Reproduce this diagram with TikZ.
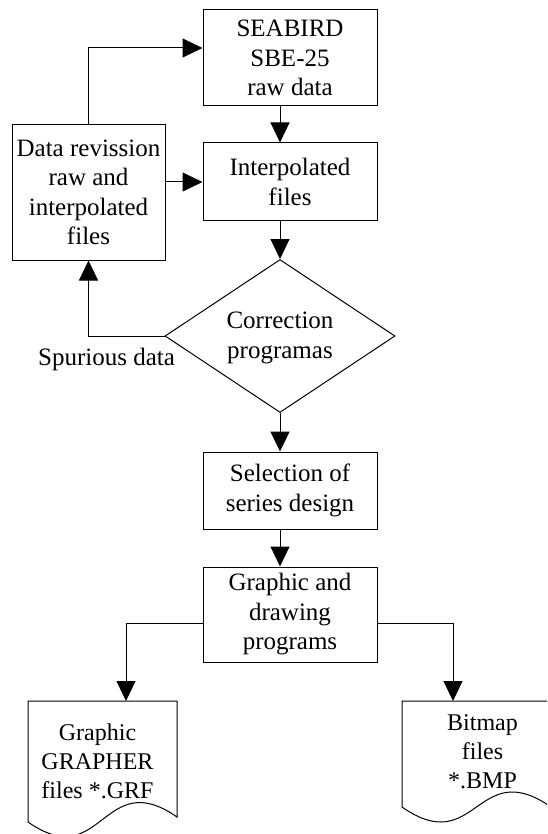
\documentclass[tikz,border=0pt]{standalone}
\usepackage{fontspec}
\setmainfont{Liberation Serif}
\usetikzlibrary{arrows.meta,shapes.geometric}
\begin{document}
\begin{tikzpicture}[x=1pt,y=-1pt,
  every node/.style={font=\fontsize{25}{29.5}\selectfont},
  doctext/.style={align=center, font=\fontsize{24}{29}\selectfont},
  box/.style={draw, line width=1pt, minimum width=174pt, inner sep=0pt, align=center},
  conn/.style={line width=1pt, -{Triangle[length=20pt,width=19pt]}},
  plain/.style={line width=1pt}]
\useasboundingbox (0,0) rectangle (547,834);
\clip (0,0) rectangle (547,834);
\node[box, minimum height=96pt] (sea) at (290,58) {SEABIRD\\SBE-25\\raw data};
\node[box, minimum height=78pt] (int) at (290,182) {Interpolated\\files};
\node[box, minimum width=153pt, minimum height=135pt] (rev) at (88.5,192.5) {Data revission\\raw and\\interpolated\\files};
\node[diamond, draw, line width=1pt, minimum width=230pt, minimum height=153pt, inner sep=0pt] (dia) at (280,336) {};
\node[align=center] (diatext) at (280,338) {Correction\\programas};
\node[anchor=base] (spur) at (106.5,365) {Spurious data};
\node[box, minimum height=77pt] (sel) at (290,490.5) {Selection of\\series design};
\node[box, minimum height=95pt] (gra) at (290,614.5) {Graphic and\\drawing\\programs};
% documents
\draw[plain] (28,701) -- (177,701) -- (177,817) .. controls (102.5,765) and (102.5,874) .. (28,822) -- cycle;
\coordinate (docLtop) at (126,701);
\node[doctext] (docLtext) at (97.5,761) {Graphic\\GRAPHER\\files *.GRF};
\draw[plain] (551,701) -- (402,701) -- (402,807) .. controls (476.5,859) and (476.5,755) .. (551,807) -- cycle;
\coordinate (docRtop) at (453,701);
\node[doctext] (docRtext) at (482.5,752) {Bitmap\\files\\*.BMP};
% connectors
\draw[conn] (rev.north) |- ([yshift=10pt]sea.west);
\draw[conn] (int.west -| rev.east) -- (int.west);
\draw[conn] (sea.south -| dia.north) -- (int.north -| dia.north);
\draw[conn] (int.south -| dia.north) -- (dia.north);
\draw[conn] (dia.west) -| (rev.south);
\draw[conn] (dia.south) -- (sel.north -| dia.south);
\draw[conn] (sel.south -| dia.south) -- (gra.north -| dia.south);
\draw[conn] ([yshift=-8.5pt]gra.west) -| (docLtop);
\draw[conn] ([yshift=-8.5pt]gra.east) -| (docRtop);
\end{tikzpicture}
\end{document}
